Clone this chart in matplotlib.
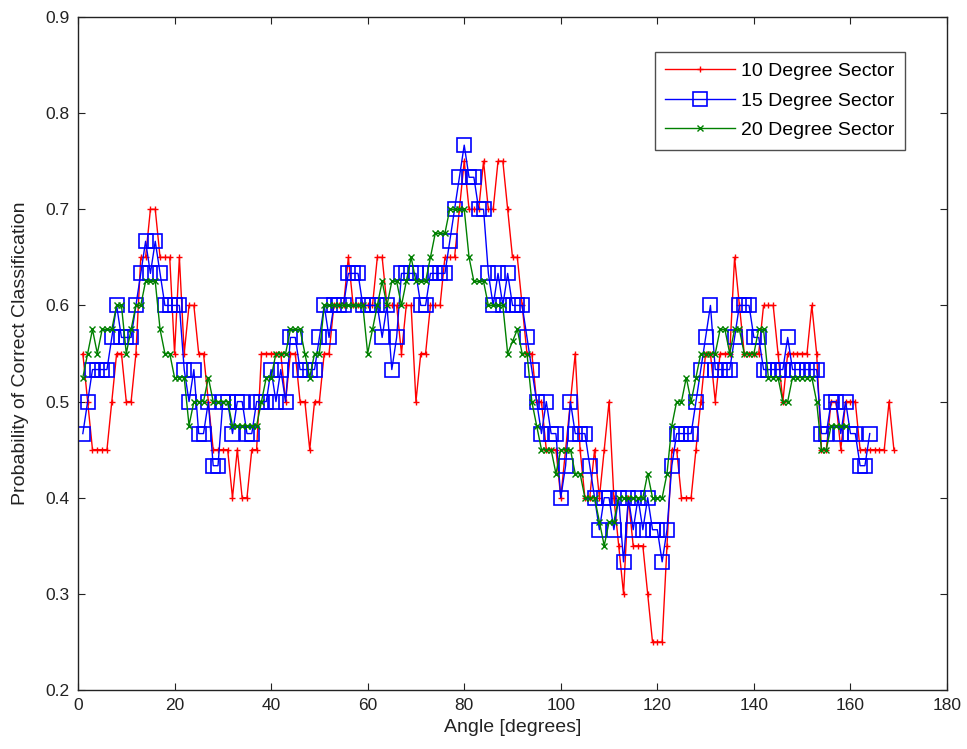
import matplotlib
matplotlib.use("Agg")
import matplotlib.pyplot as plt
import numpy as np

# 10 degree sector, angles 1..169
red_vals = [
    0.55, 0.50, 0.45, 0.45, 0.45, 0.45, 0.50, 0.55, 0.55, 0.50,   # 1-10
    0.50, 0.55, 0.65, 0.65, 0.70, 0.70, 0.65, 0.65, 0.65, 0.55,   # 11-20
    0.65, 0.55, 0.60, 0.60, 0.55, 0.55, 0.50, 0.45, 0.45, 0.45,   # 21-30
    0.45, 0.40, 0.45, 0.40, 0.40, 0.45, 0.45, 0.55, 0.55, 0.55,   # 31-40
    0.55, 0.55, 0.50, 0.55, 0.55, 0.50, 0.50, 0.45, 0.50, 0.50,   # 41-50
    0.55, 0.55, 0.60, 0.60, 0.60, 0.65, 0.60, 0.60, 0.60, 0.60,   # 51-60
    0.60, 0.65, 0.65, 0.60, 0.60, 0.60, 0.55, 0.60, 0.60, 0.50,   # 61-70
    0.55, 0.55, 0.60, 0.60, 0.60, 0.65, 0.65, 0.65, 0.70, 0.75,   # 71-80
    0.70, 0.70, 0.70, 0.75, 0.70, 0.70, 0.75, 0.75, 0.70, 0.65,   # 81-90
    0.65, 0.60, 0.55, 0.55, 0.50, 0.50, 0.45, 0.45, 0.45, 0.40,   # 91-100
    0.45, 0.50, 0.55, 0.45, 0.40, 0.40, 0.45, 0.40, 0.45, 0.50,   # 101-110
    0.40, 0.35, 0.30, 0.40, 0.35, 0.35, 0.35, 0.30, 0.25, 0.25,   # 111-120
    0.25, 0.35, 0.45, 0.45, 0.40, 0.40, 0.40, 0.45, 0.50, 0.55,   # 121-130
    0.55, 0.50, 0.55, 0.55, 0.55, 0.65, 0.60, 0.55, 0.55, 0.55,   # 131-140
    0.55, 0.60, 0.60, 0.60, 0.55, 0.50, 0.55, 0.55, 0.55, 0.55,   # 141-150
    0.55, 0.60, 0.55, 0.45, 0.45, 0.50, 0.50, 0.45, 0.50, 0.50,   # 151-160
    0.50, 0.45, 0.45, 0.45, 0.45, 0.45, 0.45, 0.50, 0.45,         # 161-169
]

# 15 degree sector, angles 1..164
blue_vals = [
    0.4667, 0.5000, 0.5333, 0.5333, 0.5333, 0.5333, 0.5667, 0.6000, 0.5667, 0.5667,  # 1-10
    0.5667, 0.6000, 0.6333, 0.6667, 0.6333, 0.6667, 0.6333, 0.6000, 0.6000, 0.6000,  # 11-20
    0.6000, 0.5333, 0.5000, 0.5333, 0.4667, 0.4667, 0.5000, 0.4333, 0.4333, 0.5000,  # 21-30
    0.5000, 0.4667, 0.5000, 0.5000, 0.4667, 0.4667, 0.5000, 0.5000, 0.5000, 0.5333,  # 31-40
    0.5000, 0.5333, 0.5000, 0.5667, 0.5667, 0.5333, 0.5333, 0.5333, 0.5333, 0.5667,  # 41-50
    0.6000, 0.5667, 0.6000, 0.6000, 0.6000, 0.6333, 0.6333, 0.6333, 0.6000, 0.6000,  # 51-60
    0.6000, 0.6000, 0.5667, 0.6000, 0.5333, 0.5667, 0.6333, 0.6333, 0.6333, 0.6333,  # 61-70
    0.6000, 0.6000, 0.6333, 0.6333, 0.6333, 0.6333, 0.6667, 0.7000, 0.7333, 0.7667,  # 71-80
    0.7333, 0.7333, 0.7000, 0.7000, 0.6333, 0.6000, 0.6333, 0.6000, 0.6333, 0.6000,  # 81-90
    0.6000, 0.6000, 0.5667, 0.5333, 0.5000, 0.4667, 0.5000, 0.4667, 0.4667, 0.4000,  # 91-100
    0.4333, 0.5000, 0.4667, 0.4667, 0.4667, 0.4333, 0.4000, 0.3667, 0.4000, 0.4000,  # 101-110
    0.3667, 0.4000, 0.3333, 0.4000, 0.3667, 0.4000, 0.3667, 0.4000, 0.3667, 0.3667,  # 111-120
    0.3333, 0.3667, 0.4333, 0.4667, 0.4667, 0.4667, 0.4667, 0.5000, 0.5333, 0.5667,  # 121-130
    0.6000, 0.5333, 0.5333, 0.5333, 0.5333, 0.5667, 0.6000, 0.6000, 0.6000, 0.5667,  # 131-140
    0.5667, 0.5333, 0.5333, 0.5333, 0.5333, 0.5333, 0.5667, 0.5333, 0.5333, 0.5333,  # 141-150
    0.5333, 0.5333, 0.5333, 0.4667, 0.4667, 0.5000, 0.5000, 0.4667, 0.5000, 0.4667,  # 151-160
    0.4667, 0.4333, 0.4333, 0.4667,                                                  # 161-164
]

# 20 degree sector, angles 1..159
green_vals = [
    0.525, 0.550, 0.575, 0.550, 0.575, 0.575, 0.575, 0.600, 0.600, 0.550,   # 1-10
    0.575, 0.600, 0.600, 0.625, 0.625, 0.625, 0.575, 0.550, 0.550, 0.525,   # 11-20
    0.525, 0.525, 0.475, 0.500, 0.500, 0.500, 0.525, 0.500, 0.500, 0.500,   # 21-30
    0.500, 0.475, 0.475, 0.475, 0.475, 0.475, 0.475, 0.500, 0.525, 0.525,   # 31-40
    0.550, 0.550, 0.550, 0.575, 0.575, 0.575, 0.550, 0.525, 0.550, 0.550,   # 41-50
    0.600, 0.600, 0.600, 0.600, 0.600, 0.600, 0.600, 0.600, 0.600, 0.550,   # 51-60
    0.575, 0.600, 0.625, 0.600, 0.625, 0.625, 0.600, 0.625, 0.650, 0.625,   # 61-70
    0.625, 0.625, 0.650, 0.675, 0.675, 0.675, 0.700, 0.700, 0.700, 0.700,   # 71-80
    0.650, 0.625, 0.625, 0.625, 0.600, 0.600, 0.600, 0.600, 0.550, 0.5625,  # 81-90
    0.575, 0.550, 0.550, 0.500, 0.475, 0.450, 0.450, 0.450, 0.425, 0.450,   # 91-100
    0.450, 0.450, 0.425, 0.425, 0.400, 0.400, 0.400, 0.375, 0.350, 0.375,   # 101-110
    0.375, 0.400, 0.400, 0.400, 0.400, 0.400, 0.400, 0.425, 0.400, 0.400,   # 111-120
    0.400, 0.425, 0.475, 0.500, 0.500, 0.525, 0.500, 0.525, 0.550, 0.550,   # 121-130
    0.550, 0.550, 0.575, 0.575, 0.550, 0.575, 0.575, 0.550, 0.550, 0.550,   # 131-140
    0.575, 0.575, 0.525, 0.525, 0.525, 0.500, 0.500, 0.525, 0.525, 0.525,   # 141-150
    0.525, 0.525, 0.500, 0.450, 0.450, 0.475, 0.475, 0.475, 0.475,          # 151-159
]

red_x = np.arange(1, len(red_vals) + 1)
blue_x = np.arange(1, len(blue_vals) + 1)
green_x = np.arange(1, len(green_vals) + 1)

labels = ["10 Degree Sector", "15 Degree Sector", "20 Degree Sector"]
x_ticks = list(range(0, 181, 20))
y_ticks = [0.2, 0.3, 0.4, 0.5, 0.6, 0.7, 0.8, 0.9]

plt.rcParams['font.family'] = ['Liberation Sans', 'DejaVu Sans']

fig = plt.figure(figsize=(9.67, 7.49), dpi=100)
ax = fig.add_axes([78 / 967, 1 - 690 / 749, (947 - 78) / 967, (690 - 17) / 749])

ax.plot(red_x, red_vals, color=(1, 0, 0), lw=1.0, marker='+', ms=4, mew=1.0,
        label=labels[0])
ax.plot(blue_x, blue_vals, color=(0, 0, 1), lw=1.0, marker='s', ms=9.5,
        mfc='none', mec=(0, 0, 1), mew=1.2, label=labels[1])
ax.plot(green_x, green_vals, color=(0, 0.5, 0), lw=1.0, marker='x', ms=5,
        mew=1.0, label=labels[2])

ax.set_xlim(0, 180)
ax.set_ylim(0.2, 0.9)
ax.set_xticks(x_ticks)
ax.set_yticks(y_ticks)
ax.set_yticklabels([f"{v:.1f}" for v in y_ticks])
ax.tick_params(direction='in', top=True, right=True, length=5, labelsize=12.5,
               colors='#222222', pad=6)
for s in ax.spines.values():
    s.set_linewidth(1.0)
    s.set_color('#222222')

ax.set_xlabel("Angle [degrees]", fontsize=14, labelpad=4, color='#222222')
ax.set_ylabel("Probability of Correct Classification", fontsize=14, labelpad=12,
              color='#222222')

leg = ax.legend(loc='upper right', bbox_to_anchor=(0.952, 0.948), fontsize=14,
                frameon=True, fancybox=False, edgecolor='#222222',
                handlelength=3.6, borderpad=0.55, labelspacing=0.6,
                handletextpad=0.3, borderaxespad=0.0)
leg.get_frame().set_linewidth(1.0)

fig.savefig("out.png", dpi=100)
